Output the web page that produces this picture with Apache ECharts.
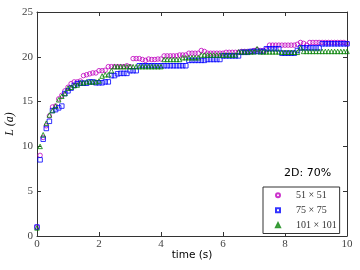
<!DOCTYPE html>
<html><head><meta charset="utf-8">
<script src="https://cdn.jsdelivr.net/npm/echarts@6/dist/echarts.min.js"></script>
<style>html,body{margin:0;padding:0;background:#fff}#c{width:360px;height:270px}</style>
</head><body><div id="c"></div>
<script>
var times = [0,0.1,0.2,0.3,0.4,0.5,0.6,0.7,0.8,0.9,1,1.1,1.2,1.3,1.4,1.5,1.6,1.7,1.8,1.9,2,2.1,2.2,2.3,2.4,2.5,2.6,2.7,2.8,2.9,3,3.1,3.2,3.3,3.4,3.5,3.6,3.7,3.8,3.9,4,4.1,4.2,4.3,4.4,4.5,4.6,4.7,4.8,4.9,5,5.1,5.2,5.3,5.4,5.5,5.6,5.7,5.8,5.9,6,6.1,6.2,6.3,6.4,6.5,6.6,6.7,6.8,6.9,7,7.1,7.2,7.3,7.4,7.5,7.6,7.7,7.8,7.9,8,8.1,8.2,8.3,8.4,8.5,8.6,8.7,8.8,8.9,9,9.1,9.2,9.3,9.4,9.5,9.6,9.7,9.8,9.9,10];
var L51 = [1.0,9.0,11.0,12.3,13.4,14.4,14.5,15.3,15.7,16.2,16.6,17.0,17.2,17.2,17.3,17.9,18.0,18.1,18.2,18.2,18.45,18.45,18.5,18.9,18.9,18.9,18.9,18.9,18.9,19.0,18.9,19.8,19.8,19.8,19.7,19.6,19.75,19.7,19.7,19.75,19.75,20.1,20.1,20.1,20.1,20.1,20.2,20.2,20.2,20.4,20.4,20.4,20.4,20.7,20.6,20.4,20.4,20.4,20.4,20.4,20.4,20.5,20.5,20.5,20.5,20.5,20.6,20.6,20.6,20.6,20.7,20.8,20.7,20.7,20.8,21.3,21.3,21.3,21.3,21.3,21.3,21.3,21.3,21.3,21.4,21.6,21.5,21.3,21.6,21.6,21.6,21.6,21.6,21.6,21.6,21.6,21.6,21.6,21.6,21.6,21.5];
var L75 = [1.0,8.5,10.8,12.0,12.8,14.0,14.1,14.3,14.5,15.9,16.2,16.5,16.8,17.0,17.05,17.05,17.05,17.2,17.2,17.1,17.1,17.1,17.2,17.2,17.9,17.9,18.1,18.15,18.15,18.15,18.45,18.45,18.45,19.0,19.0,19.0,19.0,19.0,19.0,19.0,19.0,19.0,19.0,19.0,19.0,19.0,19.0,19.0,19.0,19.6,19.6,19.6,19.6,19.6,19.6,19.7,19.7,19.7,19.7,19.7,20.1,20.1,20.1,20.1,20.1,20.1,20.5,20.5,20.5,20.6,20.6,20.6,20.6,20.6,20.9,20.9,20.9,20.9,20.9,20.4,20.4,20.4,20.4,20.4,20.7,21.0,21.0,21.0,21.0,21.0,21.0,21.0,21.45,21.45,21.45,21.45,21.45,21.45,21.45,21.45,21.45];
var L101 = [0.9,10.0,11.3,12.6,13.5,14.0,14.5,15.2,15.6,15.9,16.5,16.6,16.8,16.85,17.1,17.1,17.2,17.2,17.2,17.2,17.3,17.85,18.0,18.0,18.45,18.9,18.9,18.9,18.9,18.9,18.9,18.9,18.9,18.9,18.9,18.9,18.9,18.9,18.9,18.9,18.9,19.7,19.7,19.7,19.7,19.7,19.7,19.9,19.9,19.9,19.9,19.9,19.9,20.2,20.2,20.2,20.2,20.2,20.2,20.2,20.2,20.2,20.2,20.2,20.2,20.55,20.55,20.55,20.55,20.55,20.55,20.9,20.55,20.55,20.55,20.55,20.55,20.55,20.55,20.5,20.5,20.5,20.5,20.5,20.5,21.0,20.6,20.6,20.6,20.6,20.6,20.6,20.6,20.6,20.6,20.6,20.6,20.6,20.6,20.6,20.6];
var seriesNames = ['51 \u00d7 51', '75 \u00d7 75', '101 \u00d7 101'];
var xTicks = [0, 10, 2];
var yTicks = [0, 25, 5];
var annotation = '2D: 70%';

function pairs(v){ return times.map(function(t,i){ return [t, v[i]]; }); }

var frame = '#333';
var serif = 'Liberation Serif';
var chart = echarts.init(document.getElementById('c'), null, {renderer:'canvas'});
function mkSeries(name, data, symbol, color){
  return {type:'scatter', name:name, data:pairs(data), symbol:symbol, symbolSize:4.5,
    itemStyle:{color:'rgba(255,255,255,0)', borderColor:color, borderWidth:1}, xAxisIndex:0, yAxisIndex:0};
}
chart.setOption({
  animation:false,
  title:{text:annotation, left:284, top:168, padding:0,
    textStyle:{fontFamily:'DejaVu Sans', fontSize:11, fontWeight:'normal', color:'#000'}},
  grid:{left:37, right:13, top:12, bottom:34, containLabel:false, outerBoundsMode:'none'},
  legend:{orient:'vertical', left:263, top:187, padding:[1,3,1,12],
    itemWidth:4, itemHeight:4, itemGap:0.5,
    borderColor:frame, borderWidth:1, backgroundColor:'#fff',
    textStyle:{fontFamily:serif, fontSize:10, color:'#333', lineHeight:14.5, padding:[0,0,0,11]},
    data:seriesNames},
  xAxis:[
    {type:'value', min:xTicks[0], max:xTicks[1], interval:xTicks[2], position:'bottom',
     name:'time (s)', nameLocation:'middle', nameGap:14, nameMoveOverlap:false,
     nameTextStyle:{fontFamily:'DejaVu Sans', fontSize:10.5, color:'#000'},
     axisLine:{show:true, onZero:false, lineStyle:{color:frame, width:1}},
     axisTick:{show:true, inside:true, length:4, lineStyle:{color:frame}},
     axisLabel:{fontFamily:serif, fontSize:11, color:'#444', margin:3},
     splitLine:{show:false}},
    {type:'value', min:xTicks[0], max:xTicks[1], interval:xTicks[2], position:'top',
     axisLine:{show:true, onZero:false, lineStyle:{color:frame, width:1}},
     axisTick:{show:true, inside:true, length:4, lineStyle:{color:frame}},
     axisLabel:{show:false}, splitLine:{show:false}}
  ],
  yAxis:[
    {type:'value', min:yTicks[0], max:yTicks[1], interval:yTicks[2], position:'left',
     name:'L (a)', nameLocation:'middle', nameGap:21, nameRotate:90, nameMoveOverlap:false,
     nameTextStyle:{fontFamily:serif, fontStyle:'italic', fontSize:12, color:'#000'},
     axisLine:{show:true, onZero:false, lineStyle:{color:frame, width:1}},
     axisTick:{show:true, inside:true, length:4, lineStyle:{color:frame}},
     axisLabel:{fontFamily:serif, fontSize:11, color:'#444', margin:4},
     splitLine:{show:false}},
    {type:'value', min:yTicks[0], max:yTicks[1], interval:yTicks[2], position:'right',
     axisLine:{show:true, onZero:false, lineStyle:{color:frame, width:1}},
     axisTick:{show:true, inside:true, length:4, lineStyle:{color:frame}},
     axisLabel:{show:false}, splitLine:{show:false}}
  ],
  series:[
    mkSeries(seriesNames[0], L51, 'circle', '#bf00bf'),
    mkSeries(seriesNames[1], L75, 'rect', '#0000ff'),
    mkSeries(seriesNames[2], L101, 'triangle', '#008000')
  ]
});
</script></body></html>
